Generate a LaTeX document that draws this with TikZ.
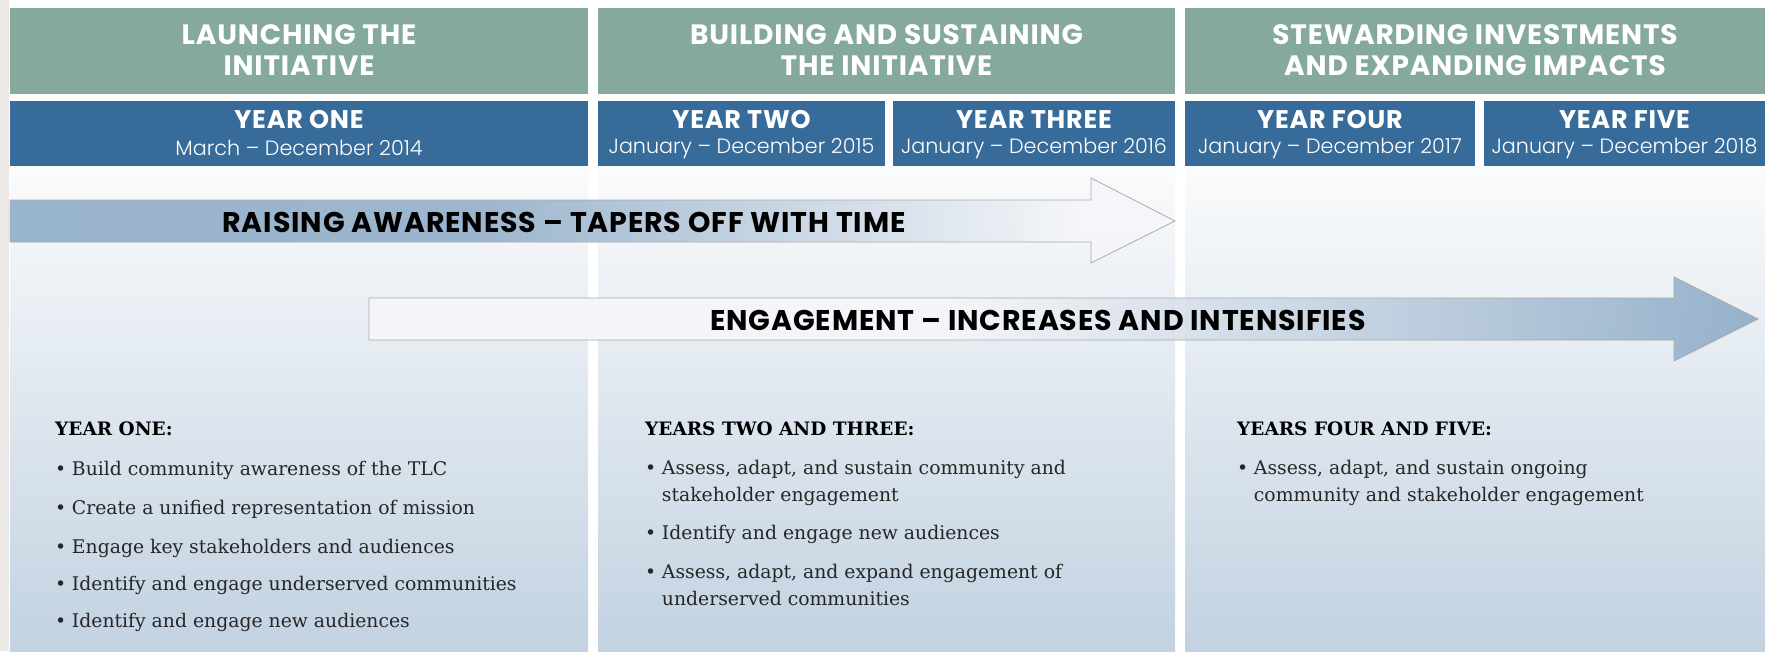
\documentclass[tikz,border=0pt]{standalone}
\usepackage{fontspec}
\setmainfont{DejaVu Serif}
\newfontfamily\hfont{Poppins}
\newfontfamily\hsfont{Poppins}[LetterSpace=3]
\newfontfamily\lfont{Poppins Light}
\definecolor{leftgray}{HTML}{ECE8E5}
\definecolor{hgreen}{HTML}{85A99A}
\definecolor{yblue}{HTML}{366B9A}
\definecolor{ptop}{HTML}{FAFBFC}
\definecolor{pbot}{HTML}{C2D2E1}
\definecolor{arblue}{HTML}{8DABC7}
\definecolor{arwhite}{HTML}{F5F6F9}
\definecolor{arline}{HTML}{ABABAB}
\definecolor{bodytext}{HTML}{262626}
% path box maps to 25bp..75bp of the shading
\pgfdeclarehorizontalshading{awshade}{100bp}{color(0bp)=(arblue); color(45bp)=(arblue!95!white); color(71bp)=(arwhite); color(100bp)=(arwhite)}
\pgfdeclarehorizontalshading{enshade}{100bp}{color(0bp)=(arwhite); color(46bp)=(arwhite); color(75bp)=(arblue); color(100bp)=(arblue)}
\newcommand\blist[1]{\begin{tabular}[t]{@{}l@{\hspace{0.3em}}l@{}}#1\end{tabular}}
\begin{document}
\begin{tikzpicture}[x=1pt,y=-1pt,
  gtitle/.style={font=\hsfont\bfseries\fontsize{28}{31}\selectfont, text=white, align=center, inner sep=0},
  ytitle/.style={font=\hsfont\bfseries\fontsize{25.5}{28}\selectfont, text=white, inner sep=0},
  ydate/.style={font=\lfont\fontsize{20.7}{24}\selectfont, text=white, inner sep=0},
  arrtext/.style={font=\hsfont\bfseries\fontsize{28.5}{30}\selectfont, text=black, inner sep=0},
  bhead/.style={font=\bfseries\fontsize{18.5}{24}\selectfont, text=black, anchor=base west, inner sep=0},
  bitem/.style={font=\fontsize{18.8}{27}\selectfont, text=bodytext, anchor=base west, inner sep=0},
  arrshape/.style={draw=arline, line width=0.8pt, fill opacity=0.9}
]
\useasboundingbox (0,0) rectangle (1765,651);
\fill[white] (0,0) rectangle (1765,651);
\fill[leftgray] (0,0) rectangle (9,651);
% column panels
\shade[top color=ptop, bottom color=pbot] (10,166) rectangle (588,651);
\shade[top color=ptop, bottom color=pbot] (598,166) rectangle (1175,651);
\shade[top color=ptop, bottom color=pbot] (1185,166) rectangle (1765,651);
% phase headers
\fill[hgreen] (10,8) rectangle (588,94);
\fill[hgreen] (598,8) rectangle (1175,94);
\fill[hgreen] (1185,8) rectangle (1765,94);
\node[gtitle] (g1) at (299,50) {LAUNCHING THE\\INITIATIVE};
\node[gtitle] (g2) at (886.5,50) {BUILDING AND SUSTAINING\\THE INITIATIVE};
\node[gtitle] (g3) at (1475,50) {STEWARDING INVESTMENTS\\AND EXPANDING IMPACTS};
% year boxes
\fill[yblue] (10,101) rectangle (588,166);
\fill[yblue] (598,101) rectangle (885,166);
\fill[yblue] (893,101) rectangle (1175,166);
\fill[yblue] (1185,101) rectangle (1475,166);
\fill[yblue] (1484,101) rectangle (1765,166);
\node[ytitle] (y1) at (299,120) {YEAR ONE};
\node[ydate] (d1) at (299,148) {March – December 2014};
\node[ytitle] (y2) at (741.5,120) {YEAR TWO};
\node[ydate] (d2) at (741.5,148) {January – December 2015};
\node[ytitle] (y3) at (1034,120) {YEAR THREE};
\node[ydate] (d3) at (1034,148) {January – December 2016};
\node[ytitle] (y4) at (1330,120) {YEAR FOUR};
\node[ydate] (d4) at (1330,148) {January – December 2017};
\node[ytitle] (y5) at (1624.5,120) {YEAR FIVE};
\node[ydate] (d5) at (1624.5,148) {January – December 2018};
% arrows
\path[arrshape, shading=awshade] (10,200) -- (1091,200) -- (1091,178) -- (1175,221) -- (1091,263) -- (1091,242) -- (10,242) -- cycle;
\node[arrtext] (a1) at (564,222) {RAISING AWARENESS – TAPERS OFF WITH TIME};
\path[arrshape, shading=enshade] (369,298) -- (1674,298) -- (1674,277) -- (1758,319) -- (1674,361) -- (1674,340) -- (369,340) -- cycle;
\node[arrtext] (a2) at (1038,320) {ENGAGEMENT – INCREASES AND INTENSIFIES};
% column 1 text
\node[bhead] (h1) at (55,435) {YEAR ONE:};
\node[bitem] (b11) at (55,475) {\blist{\textbullet & Build community awareness of the TLC}};
\node[bitem] (b12) at (55,514) {\blist{\textbullet & Create a unified representation of mission}};
\node[bitem] (b13) at (55,553) {\blist{\textbullet & Engage key stakeholders and audiences}};
\node[bitem] (b14) at (55,590) {\blist{\textbullet & Identify and engage underserved communities}};
\node[bitem] (b15) at (55,627) {\blist{\textbullet & Identify and engage new audiences}};
% column 2 text
\node[bhead] (h2) at (645,435) {YEARS TWO AND THREE:};
\node[bitem] (b21) at (645,474) {\blist{\textbullet & Assess, adapt, and sustain community and\\ & stakeholder engagement}};
\node[bitem] (b22) at (645,539) {\blist{\textbullet & Identify and engage new audiences}};
\node[bitem] (b23) at (645,578) {\blist{\textbullet & Assess, adapt, and expand engagement of\\ & underserved communities}};
% column 3 text
\node[bhead] (h3) at (1237,435) {YEARS FOUR AND FIVE:};
\node[bitem] (b31) at (1237,474) {\blist{\textbullet & Assess, adapt, and sustain ongoing\\ & community and stakeholder engagement}};
\end{tikzpicture}
\end{document}
